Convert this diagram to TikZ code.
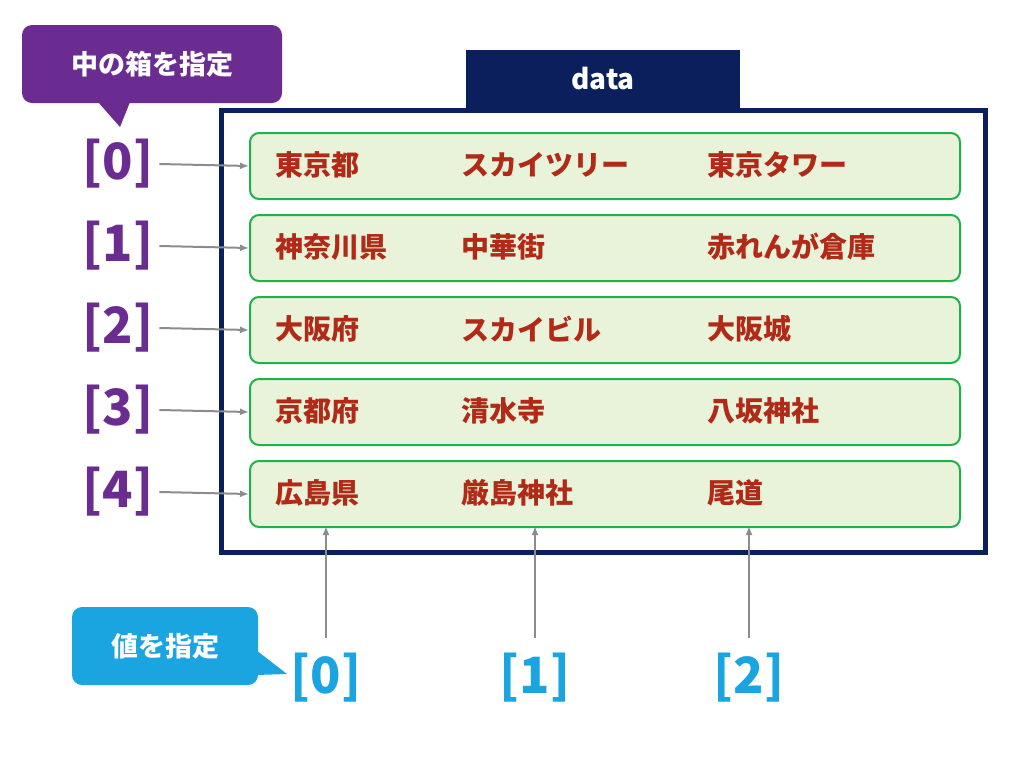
\documentclass[tikz,border=0pt]{standalone}
\usepackage{fontspec}
\newfontfamily\cjk{Noto Sans CJK JP}
\begin{document}
\begin{tikzpicture}[x=1pt,y=-1pt,
 row/.style={draw=rowg,fill=rowf,line width=2pt,rounded corners=9pt,minimum width=710pt,minimum height=66pt,anchor=north west},
 cell/.style={text=cellr,font=\cjk\bfseries\fontsize{28}{30}\selectfont,anchor=west,inner sep=0},
 idx/.style={text=idxp,font=\cjk\bfseries\fontsize{50}{52}\selectfont,inner sep=0},
 bidx/.style={text=idxb,font=\cjk\bfseries\fontsize{50}{52}\selectfont,inner sep=0},
 arr/.style={draw=gray!90,line width=2pt,-{Latex[length=9pt,width=7pt]}}]
\usetikzlibrary{arrows.meta}
\definecolor{navy}{HTML}{0B1F5C}\definecolor{rowg}{HTML}{1DB34A}\definecolor{rowf}{HTML}{E8F3DA}
\definecolor{cellr}{HTML}{B02A17}\definecolor{idxp}{HTML}{6A2C91}\definecolor{idxb}{HTML}{1AA5E0}
\useasboundingbox (0,0) rectangle (1030,756);
% callouts
\fill[idxp,rounded corners=10pt] (22,25) rectangle (282,103);
\fill[idxp] (98,102) -- (130,102) -- (120,127) -- cycle;
\node[text=white,font=\cjk\bfseries\fontsize{27}{30}\selectfont] (c1) at (152,64) {中の箱を指定};
\fill[idxb,rounded corners=10pt] (72,607) rectangle (258,685);
\fill[idxb] (256,650) -- (256,675) -- (287,674) -- cycle;
\node[text=white,font=\cjk\bfseries\fontsize{27}{30}\selectfont] (c2) at (165,646) {値を指定};
% data
\fill[navy] (466,50) rectangle (740,110);
\node[text=white,font=\cjk\bfseries\fontsize{28}{30}\selectfont] (dt) at (603,79) {data};
\draw[navy,line width=5pt] (221,110) rectangle (985,552);
\foreach \i/\a/\b/\c in {0/東京都/スカイツリー/東京タワー,1/神奈川県/中華街/赤れんが倉庫,2/大阪府/スカイビル/大阪城,3/京都府/清水寺/八坂神社,4/広島県/厳島神社/尾道}{
 \pgfmathsetmacro\y{132+82*\i}
 \node[row] (r\i) at (249,\y) {};
 \node[cell] (a\i) at (275,\y+33) {\a};
 \node[cell] (b\i) at (461,\y+33) {\b};
 \node[cell] (cc\i) at (707,\y+33) {\c};
 \node[idx] (i\i) at (118,\y+32) {[\i]};
 \draw[arr] (i\i.east) ++(6,0) coordinate (s\i) -- (r\i.west);
}
\foreach \j/\x in {0/326,1/535,2/749}{
 \node[bidx] (j\j) at (\x,678) {[\j]};
 \coordinate (t\j) at (\x,526);
 \draw[arr] (\x,638) -- (t\j);
}
\end{tikzpicture}
\end{document}
